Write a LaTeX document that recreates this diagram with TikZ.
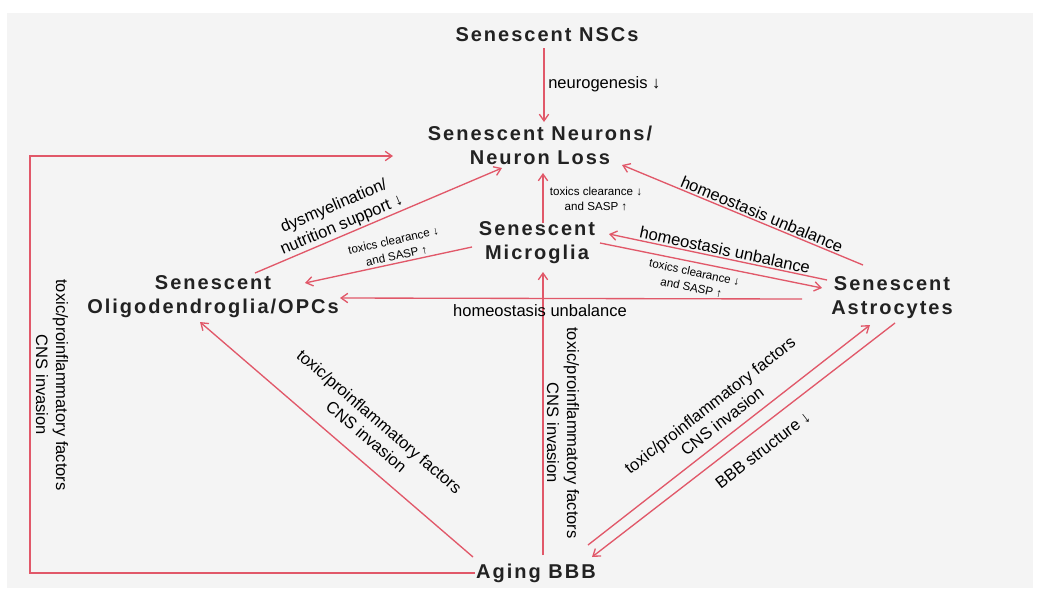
\documentclass[tikz,border=0pt]{standalone}
\usepackage{fontspec}
\setmainfont{Liberation Sans}
\newfontfamily\nodefont[LetterSpace=10]{Liberation Sans}
\usetikzlibrary{arrows.meta,calc}
\definecolor{arrowred}{RGB}{225,88,105}
\definecolor{bggray}{RGB}{244,244,244}
\definecolor{nodetext}{RGB}{34,34,34}
\begin{document}
\begin{tikzpicture}[x=0.75pt,y=-0.75pt,
  cell/.style={font=\nodefont\bfseries\fontsize{15}{18}\selectfont, text=nodetext, align=center, inner sep=0pt},
  lab/.style={font=\fontsize{12.4}{15}\selectfont, align=center, inner sep=0pt},
  small/.style={font=\fontsize{8.7}{11.6}\selectfont, align=center, inner sep=0pt},
  arr/.style={draw=arrowred, line width=1pt, -{Straight Barb[length=5pt,width=7pt]}}]
\fill[white] (0,0) rectangle (1040,594);
\fill[bggray] (7,13) rectangle (1033,588);
\useasboundingbox (0,0) rectangle (1040,594);

% nodes
\node[cell] (nsc) at (547,35) {Senescent NSCs};
\node[cell] (neu) at (540,145) {Senescent Neurons/\\Neuron Loss};
\node[cell] (mic) at (537,243) {Senescent\\Microglia};
\node[cell] (oli) at (213,297) {Senescent\\Oligodendroglia/OPCs};
\node[cell] (ast) at (892,298) {Senescent\\Astrocytes};
\node[cell] (bbb) at (536,573) {Aging BBB};

% connectors
\coordinate (cL) at (30,573);
\coordinate (cT) at (30,156);
\draw[arr] ($(nsc)+(-3,13)$) -- ($(neu)+(4,-23)$);
\draw[arr] ($(bbb)+(-61,0)$) -- (cL) -- (cT) -- ($(neu)+(-147,11)$);
\draw[arr] ($(oli)+(42,-24)$) -- ($(neu)+(-38,23)$);
\draw[arr] ($(mic)+(-65,4)$) -- ($(oli)+(92,-14)$);
\draw[arr] ($(mic)+(6,-20)$) -- ($(neu)+(3,28)$);
\draw[arr] ($(ast)+(-29,-33)$) -- ($(neu)+(82,20)$);
\draw[arr] ($(ast)+(-65,-18)$) -- ($(mic)+(72,-9)$);
\draw[arr] ($(mic)+(63,0)$) -- ($(ast)+(-70,-10)$);
\draw[arr] ($(ast)+(-90,1)$) -- ($(oli)+(127,1)$);
\draw[arr] ($(bbb)+(7,-18)$) -- ($(mic)+(6,29)$);
\draw[arr] ($(bbb)+(-63,-16)$) -- ($(oli)+(-13,25)$);
\draw[arr] ($(bbb)+(52,-28)$) -- ($(ast)+(-22,27)$);
\draw[arr] ($(ast)+(3,25)$) -- ($(bbb)+(56,-16)$);

% labels
\node[lab, anchor=west] (l1) at (548,84) {neurogenesis ↓};
\node[lab, rotate=-90] (l2) at (52,385) {toxic/proinflammatory factors\\CNS invasion};
\node[lab, rotate=23] (l3) at (338,216) {dysmyelination/\\nutrition support ↓};
\node[small, rotate=12.2] (l4) at (395,248) {toxics clearance ↓\\and SASP ↑};
\node[small] (l5) at (596,199) {toxics clearance ↓\\and SASP ↑};
\node[lab, rotate=-22.5] (l6) at (762,214) {homeostasis unbalance};
\node[lab, rotate=-12] (l7) at (725,250) {homeostasis unbalance};
\node[small, rotate=-12] (l8) at (693,280) {toxics clearance ↓\\and SASP ↑};
\node[lab] (l9) at (540,311) {homeostasis unbalance};
\node[lab, rotate=-90] (l10) at (563,433) {toxic/proinflammatory factors\\CNS invasion};
\node[lab, rotate=-40.7] (l11) at (373,429) {toxic/proinflammatory factors\\CNS invasion};
\node[lab, rotate=38] (l12) at (716,413) {toxic/proinflammatory factors\\CNS invasion};
\node[lab, rotate=37.7] (l13) at (763,450) {BBB structure ↓};
\end{tikzpicture}
\end{document}
